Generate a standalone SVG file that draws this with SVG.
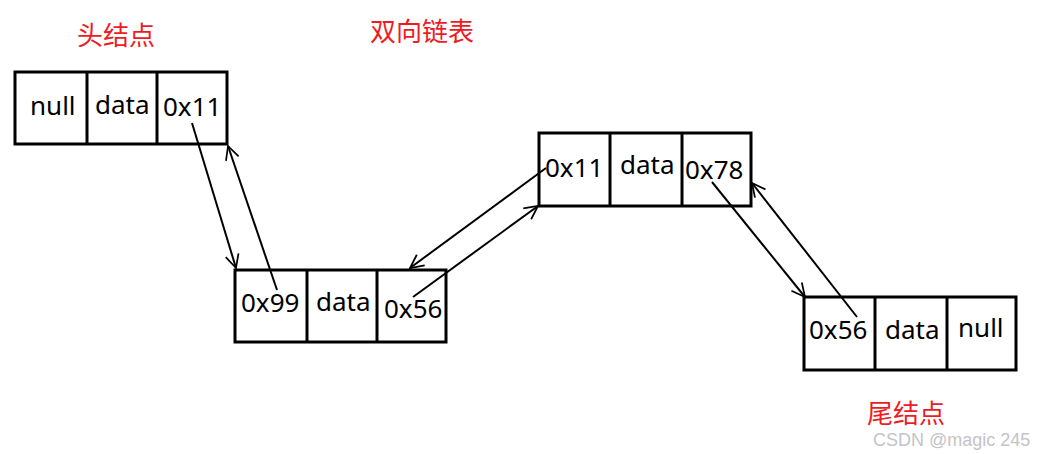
<svg xmlns="http://www.w3.org/2000/svg" width="1042" height="454" viewBox="0 0 1042 454">
<style>
.box{fill:none;stroke:#000;stroke-width:3}
.div{stroke:#000;stroke-width:3}
.t{font-family:"Noto Sans","Open Sans",sans-serif;font-size:26px;fill:#000}
.red{font-family:"Noto Sans CJK SC",sans-serif;font-size:26px;fill:#ed1c24}
.wm{font-family:"Liberation Sans",Arial,sans-serif;font-size:18px;fill:#c4c4c4}
.ln{stroke:#000;stroke-width:2;fill:none;marker-end:url(#ah)}
</style>
<defs>
<marker id="ah" viewBox="0 0 12 12" refX="11" refY="6" markerWidth="8" markerHeight="8" markerUnits="strokeWidth" orient="auto">
<path d="M1,1 L11,6 L1,11" fill="none" stroke="#000" stroke-width="1.3"/>
</marker>
</defs>
<rect width="1042" height="454" fill="#fff"/>
<g id="title-head"><text class="red" x="77" y="45">头结点</text></g>
<g id="title-main"><text class="red" x="370" y="41">双向链表</text></g>
<g id="title-tail"><text class="red" x="867" y="423">尾结点</text></g>
<g id="node1">
<rect class="box" x="15" y="72" width="212" height="72"/>
<line class="div" x1="87" y1="72" x2="87" y2="144"/>
<line class="div" x1="157" y1="72" x2="157" y2="144"/>
<text class="t" x="30" y="115">null</text>
<text class="t" x="95" y="114">data</text>
<text class="t" x="163" y="116">0x11</text>
</g>
<g id="node2">
<rect class="box" x="235" y="270" width="211" height="72"/>
<line class="div" x1="307" y1="270" x2="307" y2="342"/>
<line class="div" x1="377" y1="270" x2="377" y2="342"/>
<text class="t" x="241" y="312">0x99</text>
<text class="t" x="316" y="311">data</text>
<text class="t" x="384" y="318">0x56</text>
</g>
<g id="node3">
<rect class="box" x="539" y="133" width="212" height="73"/>
<line class="div" x1="610" y1="133" x2="610" y2="206"/>
<line class="div" x1="682" y1="133" x2="682" y2="206"/>
<text class="t" x="545" y="177">0x11</text>
<text class="t" x="620" y="174">data</text>
<text class="t" x="685" y="179">0x78</text>
</g>
<g id="node4">
<rect class="box" x="804" y="297" width="212" height="73"/>
<line class="div" x1="875" y1="297" x2="875" y2="370"/>
<line class="div" x1="947" y1="297" x2="947" y2="370"/>
<text class="t" x="809" y="339">0x56</text>
<text class="t" x="885" y="339">data</text>
<text class="t" x="958" y="337">null</text>
</g>
<g id="connectors">
<line class="ln" x1="192" y1="123" x2="236" y2="268"/>
<line class="ln" x1="277" y1="290" x2="228" y2="146"/>
<line class="ln" x1="546" y1="168" x2="410" y2="268"/>
<line class="ln" x1="413" y1="297" x2="538" y2="206"/>
<line class="ln" x1="712" y1="182" x2="805" y2="297"/>
<line class="ln" x1="857" y1="317" x2="752" y2="183"/>
</g>
<g id="watermark"><text class="wm" x="873" y="446">CSDN @magic 245</text></g>
</svg>
